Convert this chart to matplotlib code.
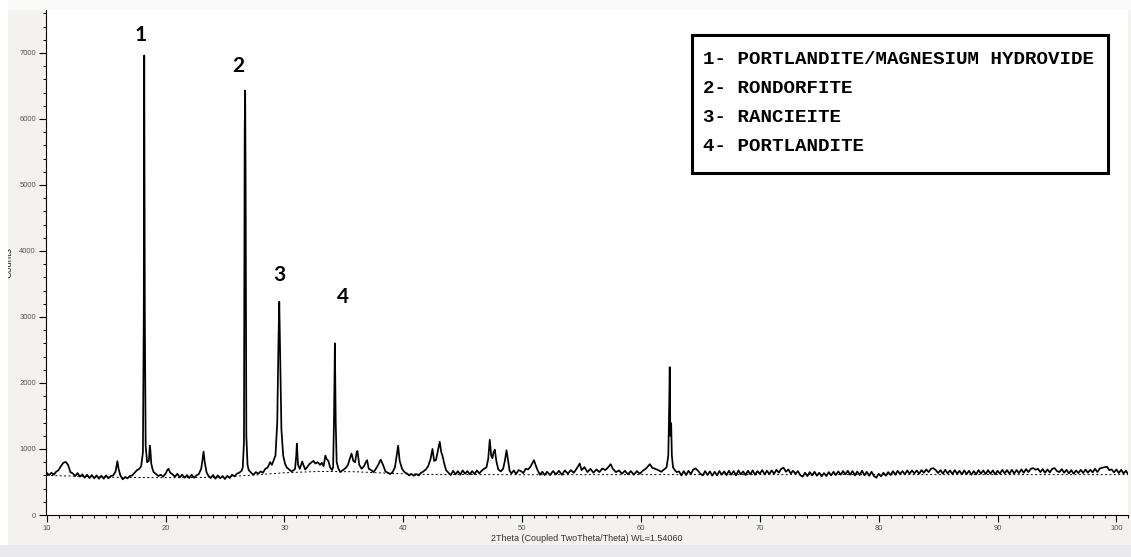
import matplotlib
matplotlib.use("Agg")
import matplotlib.pyplot as plt
from matplotlib.patches import Rectangle
from matplotlib.ticker import MultipleLocator

theta_a = [10.0, 10.2, 10.4, 10.6, 10.8, 11.0, 11.2, 11.4, 11.6, 11.8,
           12.0, 12.2, 12.4, 12.6, 12.8, 13.0, 13.2, 13.4, 13.6, 13.8,
           14.0, 14.2, 14.4, 14.6, 14.8, 15.0, 15.2, 15.4, 15.6, 15.8,
           15.95, 16.05, 16.2, 16.4, 16.6, 16.8, 17.0, 17.2, 17.4, 17.6, 17.8]
counts_a = [640, 605, 640, 610, 655, 680, 740, 790, 805, 760,
            650, 630, 590, 635, 580, 615, 565, 610, 560, 605,
            555, 600, 550, 595, 550, 600, 555, 590, 600, 660,
            815, 700, 600, 540, 575, 555, 590, 600, 640, 680, 700]

theta_b = [17.95, 18.1, 18.17, 18.21, 18.26, 18.33, 18.45, 18.6, 18.68, 18.73,
           18.8, 18.9, 19.0, 19.2, 19.4]
counts_b = [740, 950, 3000, 6960, 3000, 1050, 800, 820, 1050, 980,
            780, 700, 650, 620, 590]

theta_c = [19.6, 19.8, 20.0, 20.15, 20.25, 20.4,
           20.6, 20.8, 21.0, 21.2, 21.4, 21.6, 21.8, 22.0, 22.2, 22.4, 22.6, 22.8, 23.0,
           23.1, 23.2, 23.3, 23.45,
           23.6, 23.8, 24.0, 24.2, 24.4, 24.6, 24.8, 25.0, 25.2, 25.4, 25.6, 25.8, 26.0, 26.2, 26.4]
counts_c = [610, 580, 625, 680, 700, 640,
            615, 580, 625, 570, 610, 565, 605, 560, 610, 565, 600, 620, 700,
            820, 960, 800, 650,
            595, 560, 605, 550, 600, 555, 590, 545, 595, 560, 610, 585, 625, 640, 670]

theta_d = [26.5, 26.6, 26.66, 26.70, 26.74, 26.8, 26.9, 27.0, 27.2, 27.4,
           27.6, 27.8, 28.0, 28.2, 28.4, 28.6]
counts_d = [720, 1100, 5830, 6430, 5000, 1200, 760, 680, 640, 610,
            650, 625, 660, 640, 700, 720]

theta_e = [28.8, 28.95, 29.1, 29.25, 29.4, 29.5, 29.57, 29.64, 29.75, 29.9,
           30.05, 30.2, 30.4, 30.6, 30.8]
counts_e = [800, 760, 830, 900, 1400, 2600, 3230, 2500, 1300, 900,
            780, 720, 690, 660, 680]

theta_f = [30.9, 31.0, 31.05, 31.15, 31.3, 31.5, 31.6, 31.75, 31.9, 32.1,
           32.3, 32.45, 32.6, 32.8, 33.0, 33.15, 33.3, 33.45, 33.55, 33.7,
           33.85, 34.0, 34.1]
counts_f = [700, 900, 1080, 760, 700, 810, 760, 690, 720, 770,
            800, 820, 780, 800, 760, 790, 740, 900, 850, 820,
            720, 680, 720]

theta_g = [34.18, 34.25, 34.32, 34.4, 34.55, 34.7, 34.85, 35.0, 35.2]
counts_g = [1500, 2600, 1400, 800, 700, 650, 670, 690, 720]

theta_h = [35.35, 35.5, 35.65, 35.8, 35.95, 36.08, 36.15, 36.3, 36.5, 36.7,
           36.85, 36.96, 37.1, 37.3, 37.5, 37.7, 37.9, 38.1, 38.3, 38.5,
           38.7, 38.9, 39.1, 39.3, 39.45, 39.57, 39.7, 39.9, 40.1, 40.3,
           40.5, 40.7]
counts_h = [760, 850, 930, 820, 800, 950, 970, 760, 700, 740,
            800, 830, 700, 680, 650, 700, 760, 840, 760, 660,
            640, 620, 650, 720, 900, 1050, 820, 700, 650, 630,
            600, 620]

theta_i = [40.9, 41.1, 41.3, 41.5, 41.7, 41.9, 42.1, 42.3,
           42.46, 42.6, 42.75, 42.9, 43.07, 43.2, 43.3, 43.45, 43.6,
           43.8, 44.0, 44.2, 44.4, 44.6, 44.8, 45.0, 45.2, 45.4, 45.6,
           45.8, 46.0, 46.2, 46.4, 46.6, 46.8]
counts_i = [595, 620, 600, 640, 660, 690, 740, 850,
            1000, 820, 830, 960, 1110, 950, 900, 780, 680,
            640, 605, 670, 615, 665, 610, 675, 625, 665, 615,
            665, 620, 675, 630, 670, 700]

theta_j = [47.0, 47.15, 47.28, 47.4, 47.5, 47.6, 47.7, 47.85, 48.0, 48.2,
           48.4, 48.55, 48.69, 48.8, 48.95, 49.1, 49.3, 49.5, 49.7, 49.9,
           50.1, 50.3, 50.5, 50.7, 50.85, 51.0, 51.15, 51.3, 51.5, 51.7,
           51.9]
counts_j = [720, 850, 1140, 900, 860, 950, 990, 800, 690, 660,
            700, 820, 980, 850, 670, 630, 675, 620, 680, 665,
            635, 700, 690, 730, 780, 830, 750, 680, 610, 655,
            605]

theta_k = [52.1, 52.35, 52.6, 52.85, 53.1, 53.35, 53.6, 53.85, 54.1, 54.35,
           54.6, 54.85, 55.0, 55.25, 55.5, 55.75, 56.0, 56.25, 56.5, 56.75,
           57.0, 57.25, 57.45, 57.65, 57.9, 58.15, 58.4, 58.65, 58.9, 59.15,
           59.4, 59.65, 59.9, 60.15, 60.4, 60.6, 60.75, 60.95, 61.2, 61.45,
           61.7, 61.95, 62.15, 62.3]
counts_k = [655, 605, 665, 615, 670, 610, 675, 625, 680, 640,
            705, 780, 680, 725, 650, 700, 640, 690, 650, 705,
            680, 725, 770, 695, 650, 675, 625, 670, 615, 665,
            610, 665, 625, 670, 700, 740, 770, 715, 700, 680,
            655, 690, 720, 900]

theta_l = [62.37, 62.42, 62.47, 62.54, 62.6, 62.7, 62.85, 63.0]
counts_l = [1600, 2240, 1200, 1390, 900, 720, 680, 650]

theta_m = [63.2, 63.4, 63.6, 63.8, 64.0, 64.2, 64.4, 64.6, 64.8, 65.0,
           65.2, 65.4, 65.6, 65.8, 66.0, 66.2, 66.4, 66.6, 66.8, 67.0,
           67.2, 67.4, 67.6, 67.8, 68.0, 68.2, 68.4, 68.6, 68.8, 69.0,
           69.2, 69.4, 69.6, 69.8, 70.0, 70.2, 70.4, 70.6, 70.8, 71.0,
           71.2, 71.4, 71.6, 71.8, 72.0, 72.2, 72.4, 72.6, 72.8, 73.0,
           73.2, 73.4, 73.6, 73.8, 74.0, 74.2, 74.4, 74.6, 74.8, 75.0,
           75.2, 75.4, 75.6, 75.8, 76.0, 76.2, 76.4, 76.6, 76.8, 77.0,
           77.2, 77.4, 77.6, 77.8, 78.0, 78.2, 78.4, 78.6, 78.8, 79.0,
           79.2, 79.4, 79.6, 79.8, 80.0, 80.2, 80.4, 80.6, 80.8, 81.0,
           81.2, 81.4, 81.6, 81.8, 82.0, 82.2, 82.4, 82.6, 82.8, 83.0,
           83.2, 83.4, 83.6, 83.8, 84.0, 84.2, 84.4, 84.6, 84.8, 85.0,
           85.2, 85.4, 85.6, 85.8, 86.0, 86.2, 86.4, 86.6, 86.8, 87.0,
           87.2, 87.4, 87.6, 87.8, 88.0, 88.2, 88.4, 88.6, 88.8, 89.0,
           89.2, 89.4, 89.6, 89.8, 90.0, 90.2, 90.4, 90.6, 90.8, 91.0,
           91.2, 91.4, 91.6, 91.8, 92.0, 92.2, 92.4, 92.6, 92.8, 93.0,
           93.2, 93.4, 93.6, 93.8, 94.0, 94.2, 94.4, 94.6, 94.8, 95.0,
           95.2, 95.4, 95.6, 95.8, 96.0, 96.2, 96.4, 96.6, 96.8, 97.0,
           97.2, 97.4, 97.6, 97.8, 98.0, 98.2, 98.4, 98.6, 98.8, 99.0,
           99.2, 99.4, 99.6, 99.8, 100.0, 100.2, 100.4, 100.6, 100.8, 101.0]
counts_m = [660, 600, 665, 605, 670, 620, 690, 705, 670, 625,
            600, 665, 605, 660, 595, 655, 600, 665, 610, 660,
            605, 670, 610, 665, 600, 675, 615, 660, 605, 670,
            615, 675, 610, 665, 625, 680, 615, 670, 620, 675,
            625, 685, 640, 700, 715, 655, 690, 630, 670, 625,
            665, 605, 580, 640, 590, 650, 600, 655, 595, 640,
            585, 635, 590, 650, 600, 655, 605, 660, 610, 665,
            615, 670, 610, 665, 600, 660, 605, 670, 600, 655,
            595, 655, 590, 565, 625, 585, 640, 595, 650, 605,
            665, 610, 670, 620, 665, 615, 675, 625, 675, 630,
            675, 625, 680, 640, 690, 650, 700, 710, 680, 635,
            680, 625, 685, 630, 675, 620, 680, 625, 670, 615,
            675, 620, 670, 610, 665, 615, 680, 625, 675, 620,
            680, 625, 675, 615, 670, 625, 685, 630, 680, 625,
            685, 630, 680, 635, 690, 640, 695, 650, 700, 710,
            685, 700, 650, 695, 640, 690, 645, 700, 710, 665,
            650, 695, 640, 685, 630, 680, 625, 675, 635, 685,
            635, 690, 640, 685, 645, 700, 650, 705, 715, 725,
            730, 680, 690, 645, 690, 635, 685, 630, 670, 615]

# fitted background (dashed)
bg_theta = [10, 13, 16, 20, 24, 27, 30, 33, 36, 39, 42, 50, 60, 70, 80, 90, 101]
bg_counts = [600, 585, 570, 565, 570, 600, 640, 660, 655, 630, 615, 610, 612, 612, 612, 612, 612]

# phase labels
peak_ids = ["1", "2", "3", "4"]
peak_label_theta = [17.93, 26.09, 29.54, 34.92]
peak_label_counts = [7270, 6800, 3640, 3300]
phases = ["1- PORTLANDITE/MAGNESIUM HYDROVIDE", "2- RONDORFITE",
          "3- RANCIEITE", "4- PORTLANDITE"]

two_theta = (theta_a + theta_b + theta_c + theta_d + theta_e + theta_f + theta_g
             + theta_h + theta_i + theta_j + theta_k + theta_l + theta_m)
counts = (counts_a + counts_b + counts_c + counts_d + counts_e + counts_f + counts_g
          + counts_h + counts_i + counts_j + counts_k + counts_l + counts_m)
assert len(two_theta) == len(counts)

W, H = 1131, 557
fig = plt.figure(figsize=(W / 100, H / 100), dpi=100, facecolor='#f3f2ef')

# window chrome around the plot
fig.patches.append(Rectangle((0, 0), 1, 12 / H, transform=fig.transFigure,
                             facecolor='#e9e9ee', edgecolor='none', zorder=0))
fig.patches.append(Rectangle((0, 1 - 10 / H), 1, 10 / H, transform=fig.transFigure,
                             facecolor='#fafafa', edgecolor='none', zorder=0))

ax = fig.add_axes([45.7 / W, 42 / H, (1128.3 - 45.7) / W, (515 - 10) / H])
ax.set_facecolor('white')

ax.plot(two_theta, counts, color='black', linewidth=1.25)
ax.plot(bg_theta, bg_counts, color='black', linewidth=0.7, linestyle=(0, (2, 2.5)))

ax.set_xlim(9.92, 101.0)
ax.set_ylim(0, 7650)

for side in ['top', 'right']:
    ax.spines[side].set_visible(False)
for side in ['left', 'bottom']:
    ax.spines[side].set_linewidth(0.8)

ax.xaxis.set_major_locator(MultipleLocator(10))
ax.xaxis.set_minor_locator(MultipleLocator(1))
ax.yaxis.set_major_locator(MultipleLocator(1000))
ax.yaxis.set_minor_locator(MultipleLocator(200))
ax.tick_params(which='major', direction='out', length=5, width=0.8, pad=2,
               labelsize=5.5, labelcolor='#555555')
ax.tick_params(which='minor', direction='out', length=2.5, width=0.7)
for lab in ax.get_xticklabels() + ax.get_yticklabels():
    lab.set_family('Liberation Sans')

ax.set_xlabel('2Theta (Coupled TwoTheta/Theta) WL=1.54060', fontsize=6.5,
              family='Liberation Sans', color='#333333', labelpad=1.5)

for pid, px, py in zip(peak_ids, peak_label_theta, peak_label_counts):
    ax.text(px, py, pid, ha='center', va='center', fontsize=15,
            fontweight='bold', family='Lato', color='black')

# y axis title, partly cut off by the window edge
fig.text(9 / W, 1 - 263 / H, 'Counts', rotation=90, ha='center', va='center',
         fontsize=7, family='Liberation Sans', color='#333333')
fig.patches.append(Rectangle((0, 12 / H), 8 / W, 1 - 12 / H, transform=fig.transFigure,
                             facecolor='white', edgecolor='none', zorder=10))

# legend box
fig.patches.append(Rectangle((692 / W, 1 - 173 / H), (1108 - 692) / W, (173 - 35) / H,
                             transform=fig.transFigure, facecolor='white',
                             edgecolor='black', linewidth=2.2, zorder=5))
for i, txt in enumerate(phases):
    fig.text(703 / W, 1 - (59 + 29.3 * i) / H, txt, ha='left', va='center',
             fontsize=13.8, fontweight='bold', family='Liberation Mono',
             color='black', zorder=6)

fig.savefig('out.png', dpi=100, facecolor=fig.get_facecolor())
